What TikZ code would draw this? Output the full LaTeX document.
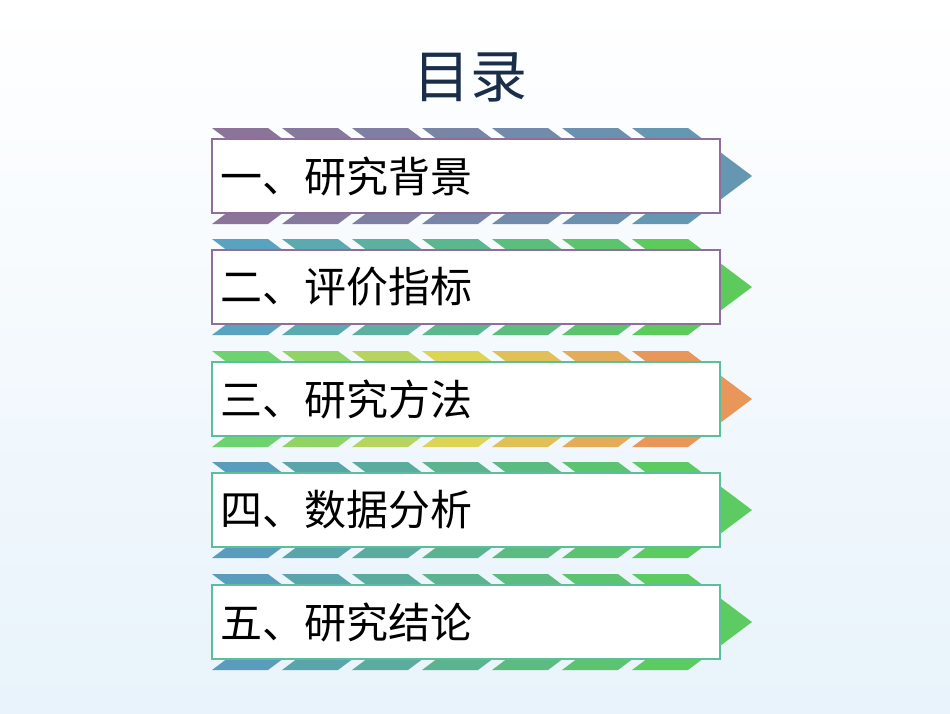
\documentclass[tikz,border=0pt]{standalone}
\usepackage{fontspec}
\newfontfamily\cjk{Noto Sans CJK SC}
\begin{document}
\begin{tikzpicture}[x=1pt,y=-1pt,
  lbl/.style={font=\cjk\fontsize{42}{46}\selectfont, anchor=west, inner sep=0},
  itembox/.style={fill=white, line width=1.5pt}]
\definecolor{pA}{HTML}{8B7399}\definecolor{pC}{HTML}{6597B3}\colorlet{pB}{pA!50!pC}
\definecolor{tA}{HTML}{5AA3C0}\definecolor{tC}{HTML}{5CCB5C}\colorlet{tB}{tA!50!tC}
\definecolor{gA}{HTML}{6ED36E}\definecolor{gB}{HTML}{DCD455}\definecolor{gC}{HTML}{E8965A}
\definecolor{bA}{HTML}{5A9CBB}\definecolor{bC}{HTML}{5CCB62}\colorlet{bB}{bA!50!bC}
\definecolor{brdP}{HTML}{8E6E9A}\definecolor{brdG}{HTML}{5BBF9A}
\definecolor{titlec}{HTML}{1A2E4A}\definecolor{bgb}{HTML}{E8F3FB}
\shade[top color=white, bottom color=bgb] (0,0) rectangle (950,713);
\useasboundingbox (0,0) rectangle (950,713);
\node[font=\cjk\fontsize{57}{62}\selectfont, text=titlec] (title) at (470,77) {目录};
\newcommand{\myrow}[6]{%
  \foreach \i in {0,...,6}{%
    \pgfmathtruncatemacro{\pa}{\i<=3 ? 100*\i/3 : 0}%
    \pgfmathtruncatemacro{\pb}{\i>3 ? 100*(\i-3)/3 : 0}%
    \ifnum\i>3 \colorlet{cc}{#4!\pb!#3}\else\colorlet{cc}{#3!\pa!#2}\fi
    \pgfmathsetmacro{\xo}{212+70*\i}%
    \fill[cc] (\xo,#1-48) -- (\xo+56,#1-48) -- (\xo+120,#1) -- (\xo+56,#1+48) -- (\xo,#1+48) -- (\xo+64,#1) -- cycle;
  }%
  \draw[itembox, draw=#5] (212,#1-37) rectangle (720,#1+37);
  \node[lbl] at (220,#1) {#6};
}
\myrow{176}{pA}{pB}{pC}{brdP}{一、研究背景}
\myrow{287}{tA}{tB}{tC}{brdP}{二、评价指标}
\myrow{399}{gA}{gB}{gC}{brdG}{三、研究方法}
\myrow{510}{bA}{bB}{bC}{brdG}{四、数据分析}
\myrow{622}{bA}{bB}{bC}{brdG}{五、研究结论}
\end{tikzpicture}
\end{document}
